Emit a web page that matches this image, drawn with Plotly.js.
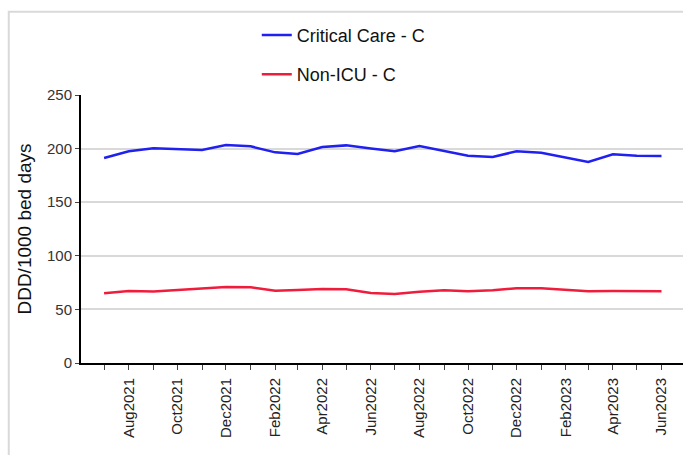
<!DOCTYPE html>
<html>
<head>
<meta charset="utf-8">
<script src="https://cdn.plot.ly/plotly-3.0.1.min.js"></script>
<style>html,body{margin:0;padding:0;background:#fff;}#chart{width:683px;height:455px;}</style>
</head>
<body>
<div id="chart"></div>
<script>
const months = ["2021-07-01","2021-08-01","2021-09-01","2021-10-01","2021-11-01","2021-12-01",
  "2022-01-01","2022-02-01","2022-03-01","2022-04-01","2022-05-01","2022-06-01",
  "2022-07-01","2022-08-01","2022-09-01","2022-10-01","2022-11-01","2022-12-01",
  "2023-01-01","2023-02-01","2023-03-01","2023-04-01","2023-05-01","2023-06-01"];
const criticalCare = [191.2,197.5,200.3,199.6,198.7,203.4,202.1,196.5,195.0,201.5,203.0,200.0,
  197.5,202.4,197.8,193.4,192.2,197.5,196.2,191.5,187.5,194.7,193.4,193.1];
const nonICU = [65.0,67.2,66.8,68.1,70.0,71.0,70.6,67.5,68.1,69.0,68.7,65.3,
  64.4,66.5,67.8,66.9,67.8,69.7,69.7,68.1,66.9,67.2,66.9,66.9];
const seriesNames = ["Critical Care - C","Non-ICU - C"];

const traces = [
  {x: months, y: criticalCare, name: seriesNames[0], type: "scatter", mode: "lines",
   line: {color: "#2020f0", width: 2.5}, legendgroup: "a"},
  {x: months, y: nonICU, name: seriesNames[1], type: "scatter", mode: "lines",
   line: {color: "#f01c3c", width: 2.5}, legendgroup: "b"}
];

const layout = {
  width: 683, height: 455,
  margin: {l: 81, r: 0, t: 95, b: 92},
  paper_bgcolor: "#fff", plot_bgcolor: "#fff",
  font: {family: "Liberation Sans, Arial, sans-serif", color: "#333"},
  showlegend: true,
  legend: {x: 0.292, xanchor: "left", y: 1.292, yanchor: "top", orientation: "v",
    traceorder: "grouped", tracegroupgap: 13, bgcolor: "rgba(0,0,0,0)",
    font: {size: 18, color: "#111"}},
  xaxis: {
    type: "date", range: ["2021-06-02", "2023-06-28"],
    tick0: "2021-08-01", dtick: "M2", tickformat: "%b%Y", tickangle: -90,
    ticks: "outside", ticklen: 5, tickcolor: "#444", tickwidth: 1,
    ticklabelstandoff: 2,
    minor: {dtick: "M1", ticks: "outside", ticklen: 5, tickcolor: "#444", showgrid: false},
    showgrid: false, zeroline: false,
    showline: true, linecolor: "#000", linewidth: 2,
    tickfont: {size: 15, color: "#222"}
  },
  yaxis: {
    range: [0, 250], dtick: 50, tick0: 0,
    ticks: "outside", ticklen: 4, tickcolor: "#444",
    showgrid: true, gridcolor: "#d9d9d9", gridwidth: 2,
    zeroline: false, showline: true, linecolor: "#000", linewidth: 2,
    tickfont: {size: 15, color: "#333"},
    title: {text: "DDD/1000 bed days", font: {size: 19, color: "#111"}, standoff: 10}
  },
  shapes: [
    {type: "rect", xref: "paper", yref: "paper", x0: -0.12, x1: 1.1, y0: -0.5, y1: 1.311,
     line: {color: "#d9d9d9", width: 2}, fillcolor: "rgba(0,0,0,0)", layer: "below"}
  ]
};

Plotly.newPlot("chart", traces, layout, {displayModeBar: false, staticPlot: true});
</script>
</body>
</html>
